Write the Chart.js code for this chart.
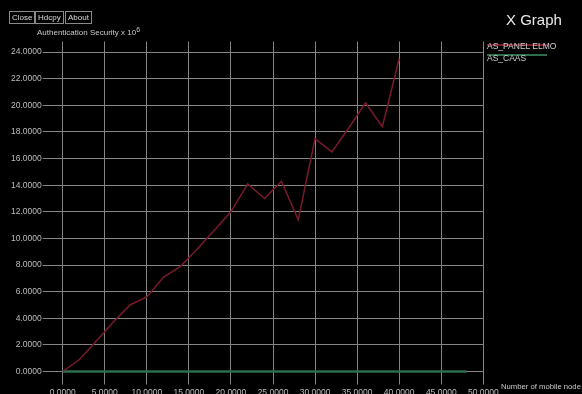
<!DOCTYPE html>
<html>
<head>
<meta charset="utf-8">
<script src="https://cdn.jsdelivr.net/npm/chart.js@4"></script>
<style>
    html, body { margin: 0; padding: 0; background: #000; }
    body { width: 582px; height: 394px; position: relative; overflow: hidden; font-family: "Liberation Sans", Arial, sans-serif; color: #c8c8c8; }
    #chart { position: absolute; left: 0; top: 0; }
    .btn { position: absolute; top: 11px; height: 11px; border: 1px solid #8a8a8a; font-size: 8px; line-height: 11px; padding: 0 2px; color: #d8d8d8; }
    .lbl { position: absolute; white-space: nowrap; }
    .leg { position: absolute; left: 487px; font-size: 8.5px; color: #cfcfcf; white-space: nowrap; }
</style>
</head>
<body>
<canvas id="chart" width="582" height="394"></canvas>
<div class="btn" style="left:9px;">Close</div>
<div class="btn" style="left:35px;">Hdcpy</div>
<div class="btn" style="left:65px;">About</div>
<div class="lbl" style="left:37px; top:26px; font-size:8px;">Authentication Security x 10<sup style="font-size:7px; vertical-align:3px;">6</sup></div>
<div class="lbl" style="left:506px; top:11px; font-size:15px; color:#e8e8e8;">X Graph</div>
<div class="lbl" style="left:501px; top:382px; font-size:7.7px;">Number of mobile node</div>
<div id="legend"></div>
<script>
document.addEventListener('DOMContentLoaded', function() {
    // data
    const nodes = [0, 2, 4, 6, 8, 10, 12, 14, 16, 18, 20, 22, 24, 26, 28, 30, 32, 34, 36, 38, 40];
    const panelElmo = [0, 0.9, 2.3, 3.7, 5.0, 5.6, 7.1, 7.9, 9.2, 10.6, 12.0, 14.1, 13.0, 14.3, 11.4, 17.5, 16.5, 18.3, 20.2, 18.4, 23.5];
    const caasNodes = [0, 8, 16, 24, 32, 40, 48];
    const caas = [0, 0, 0, 0, 0, 0, 0];
    const xTicks = [0, 5, 10, 15, 20, 25, 30, 35, 40, 45, 50];
    const yTicks = [0, 2, 4, 6, 8, 10, 12, 14, 16, 18, 20, 22, 24];

    const seriesNames = ['AS_PANEL ELMO', 'AS_CAAS'];
    const seriesColors = ['#7a1a2a', '#2d6e4c'];

    const gridColor = '#858585';
    const tickColor = '#bdbdbd';

    const toPoints = (xs, ys) => xs.map((x, i) => ({ x: x, y: ys[i] }));

    // legend: label with a coloured line, like the original
    const legend = document.getElementById('legend');
    seriesNames.forEach((name, i) => {
        const line = document.createElement('div');
        line.style.cssText = 'position:absolute;left:487px;width:60px;height:2px;background:' + seriesColors[i] + ';top:' + (i === 0 ? 44 : 54) + 'px;';
        legend.appendChild(line);
        const txt = document.createElement('div');
        txt.className = 'leg';
        txt.style.top = (i === 0 ? 41 : 53) + 'px';
        txt.textContent = name;
        legend.appendChild(txt);
    });

    new Chart(document.getElementById('chart'), {
        type: 'line',
        data: {
            datasets: [{
                label: seriesNames[0],
                data: toPoints(nodes, panelElmo),
                borderColor: seriesColors[0],
                borderWidth: 1.5,
                pointRadius: 0,
                tension: 0,
                clip: false
            }, {
                label: seriesNames[1],
                data: toPoints(caasNodes, caas),
                borderColor: seriesColors[1],
                borderWidth: 2.5,
                pointRadius: 0,
                tension: 0,
                clip: false
            }]
        },
        options: {
            responsive: false,
            animation: false,
            devicePixelRatio: 1,
            layout: { padding: { top: 41.5, right: 98.7, bottom: 0, left: 0 } },
            plugins: {
                legend: { display: false },
                tooltip: { enabled: false }
            },
            scales: {
                x: {
                    type: 'linear',
                    min: 0,
                    max: 50,
                    afterFit: function(scale) { scale.height = 22.5; },
                    afterBuildTicks: function(scale) { scale.ticks = xTicks.map(v => ({ value: v })); },
                    grid: { color: gridColor, lineWidth: 1, tickLength: 13, drawTicks: true },
                    border: { display: false },
                    ticks: {
                        color: tickColor,
                        padding: 3,
                        maxRotation: 0,
                        autoSkip: false,
                        font: { family: 'Liberation Sans', size: 8.5 },
                        callback: v => v.toFixed(4)
                    }
                },
                y: {
                    type: 'linear',
                    min: 0,
                    max: 24.8,
                    afterFit: function(scale) { scale.width = 62.7; },
                    afterBuildTicks: function(scale) { scale.ticks = yTicks.map(v => ({ value: v })); },
                    grid: { color: gridColor, lineWidth: 1, tickLength: 20, drawTicks: true },
                    border: { display: false },
                    ticks: {
                        color: tickColor,
                        padding: 1,
                        autoSkip: false,
                        font: { family: 'Liberation Sans', size: 8.5 },
                        callback: v => v.toFixed(4)
                    }
                }
            }
        }
    });
});
</script>
</body>
</html>
